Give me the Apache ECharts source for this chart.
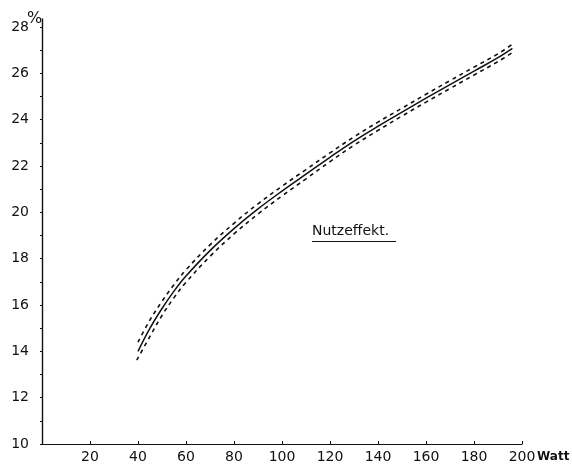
<!DOCTYPE html>
<html>
<head>
<meta charset="utf-8">
<style>
  html, body { margin: 0; padding: 0; background: #fff; }
  #chart { width: 572px; height: 464px; }
</style>
<script src="https://cdn.jsdelivr.net/npm/echarts@6/dist/echarts.min.js"></script>
</head>
<body>
<div id="chart"></div>
<script>
// Efficiency (%) against electrical power (Watt)
const power = [40, 45, 50, 55, 60, 70, 80, 90, 100, 110, 120, 130, 140, 150, 160, 170, 180, 190, 196];
const efficiency = [14.0, 15.0, 15.85, 16.6, 17.25, 18.35, 19.3, 20.15, 20.92, 21.65, 22.38, 23.08, 23.72, 24.33, 24.93, 25.52, 26.1, 26.68, 27.08];
// Scatter band drawn as dashed lines above and below the mean curve
const upperBand = [14.4, 15.36, 16.16, 16.88, 17.52, 18.6, 19.53, 20.37, 21.13, 21.85, 22.57, 23.26, 23.9, 24.5, 25.1, 25.69, 26.27, 26.85, 27.26];
const lowerBand = [13.62, 14.65, 15.55, 16.32, 16.98, 18.1, 19.07, 19.93, 20.71, 21.45, 22.19, 22.9, 23.54, 24.16, 24.76, 25.35, 25.93, 26.51, 26.9];

const yTickLabels = [10, 12, 14, 16, 18, 20, 22, 24, 26, 28];
const yTicks = [10, 11, 12, 13, 14, 15, 16, 17, 18, 19, 20, 21, 22, 23, 24, 25, 26, 27, 28];
const xTickLabels = [20, 40, 60, 80, 100, 120, 140, 160, 180, 200];

const ink = '#111';
const font = 'DejaVu Sans';

const pairs = (xs, ys) => xs.map((x, i) => [x, ys[i]]);

const chart = echarts.init(document.getElementById('chart'), null, { renderer: 'canvas' });
chart.setOption({
  animation: false,
  backgroundColor: '#fff',
  grid: { left: 42, right: 50, top: 19, bottom: 19, containLabel: false },
  xAxis: {
    type: 'value', min: 0, max: 200,
    axisLine: { lineStyle: { color: ink, width: 1.2 } },
    axisTick: { show: true, length: 3, inside: true, customValues: xTickLabels, lineStyle: { color: ink } },
    axisLabel: { customValues: xTickLabels, color: ink, fontFamily: font, fontSize: 14, margin: 6 },
    splitLine: { show: false }
  },
  yAxis: {
    type: 'value', min: 10, max: 28.35,
    axisLine: { show: true, lineStyle: { color: ink, width: 1.4 } },
    axisTick: { show: true, length: 2, customValues: yTicks, lineStyle: { color: ink } },
    axisLabel: { customValues: yTickLabels, color: ink, fontFamily: font, fontSize: 14, margin: 13 },
    splitLine: { show: false }
  },
  series: [
    {
      type: 'line', data: pairs(power, efficiency), smooth: 0.4, symbol: 'none',
      lineStyle: { color: ink, width: 1.5 }
    },
    {
      type: 'line', data: pairs(power, upperBand), smooth: 0.4, symbol: 'none',
      lineStyle: { color: ink, width: 1.6, type: [4, 4] }
    },
    {
      type: 'line', data: pairs([39.5].concat(power.slice(1)), lowerBand), smooth: 0.4, symbol: 'none',
      lineStyle: { color: ink, width: 1.6, type: [4, 4] }
    }
  ],
  graphic: [
    { type: 'text', left: 27, top: 11, style: { text: '%', fill: ink, font: '16px "DejaVu Sans"' } },
    { type: 'text', left: 537, top: 451, style: { text: 'Watt', fill: ink, font: 'bold 12px "DejaVu Sans"' } },
    { type: 'text', left: 312, top: 224, style: { text: 'Nutzeffekt.', fill: ink, font: '14px "DejaVu Sans"' } },
    { type: 'line', shape: { x1: 312, y1: 241.5, x2: 396, y2: 241.5 }, style: { stroke: ink, lineWidth: 1.2 } }
  ]
});
</script>
</body>
</html>
